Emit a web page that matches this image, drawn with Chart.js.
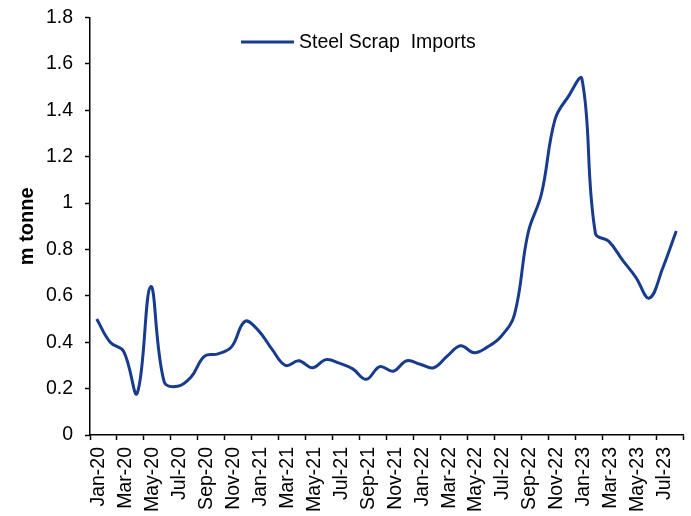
<!DOCTYPE html>
<html>
<head>
<meta charset="utf-8">
<script src="https://cdn.jsdelivr.net/npm/chart.js@4/dist/chart.umd.min.js"></script>
<style>
  html, body { margin: 0; padding: 0; background: #fff; }
  #wrap { width: 691px; height: 516px; }
</style>
</head>
<body>
<div id="wrap"><canvas id="chart" width="691" height="516"></canvas></div>
<script>
// Monthly steel scrap imports, million tonnes
const months = [
  'Jan-20','Feb-20','Mar-20','Apr-20','May-20','Jun-20','Jul-20','Aug-20','Sep-20','Oct-20','Nov-20','Dec-20',
  'Jan-21','Feb-21','Mar-21','Apr-21','May-21','Jun-21','Jul-21','Aug-21','Sep-21','Oct-21','Nov-21','Dec-21',
  'Jan-22','Feb-22','Mar-22','Apr-22','May-22','Jun-22','Jul-22','Aug-22','Sep-22','Oct-22','Nov-22','Dec-22',
  'Jan-23','Feb-23','Mar-23','Apr-23','May-23','Jun-23','Jul-23','Aug-23'
];
const scrapImports = [
  0.50, 0.40, 0.36, 0.18, 0.64, 0.23, 0.21, 0.25, 0.34, 0.35, 0.38, 0.49,
  0.45, 0.37, 0.30, 0.32, 0.29, 0.325, 0.31, 0.285, 0.24, 0.295, 0.275, 0.32,
  0.305, 0.29, 0.34, 0.385, 0.355, 0.38, 0.425, 0.52, 0.87, 1.04, 1.36, 1.46,
  1.535, 0.87, 0.835, 0.755, 0.68, 0.59, 0.72, 0.88
];
const yTickLabels = ['0', '0.2', '0.4', '0.6', '0.8', '1', '1.2', '1.4', '1.6', '1.8'];

const seriesLabel = 'Steel Scrap  Imports';
const lineColor = '#173C8E';
const fontFamily = '"Liberation Sans", Arial, sans-serif';

// Legend drawn inside the plot area, near the top
const insideLegend = {
  id: 'insideLegend',
  afterDraw(chart) {
    const { ctx, chartArea } = chart;
    const ds = chart.data.datasets[0];
    const x0 = chartArea.left + 151;
    const y0 = chartArea.top + 24.5;
    ctx.save();
    ctx.strokeStyle = ds.borderColor;
    ctx.lineWidth = 3;
    ctx.beginPath();
    ctx.moveTo(x0, y0);
    ctx.lineTo(x0 + 53, y0);
    ctx.stroke();
    ctx.fillStyle = '#000';
    ctx.font = '19.5px ' + fontFamily;
    ctx.textBaseline = 'middle';
    ctx.textAlign = 'left';
    ctx.fillText(ds.label, x0 + 58, y0 + 1);
    ctx.restore();
  }
};

// Tick marks on the month axis every second month, at category boundaries
const everyOther = (c) => (c.index === undefined || c.index % 2 === 0) ? '#000' : 'rgba(0,0,0,0)';

new Chart(document.getElementById('chart'), {
  type: 'line',
  data: {
    labels: months,
    datasets: [{
      label: seriesLabel,
      data: scrapImports,
      borderColor: lineColor,
      backgroundColor: lineColor,
      borderWidth: 3,
      pointRadius: 0,
      pointHoverRadius: 0,
      tension: 0.4,
      fill: false
    }]
  },
  options: {
    responsive: false,
    animation: false,
    devicePixelRatio: 1,
    layout: { padding: { left: 0, right: 8, top: 17.5, bottom: 0 } },
    plugins: {
      legend: { display: false },
      tooltip: { enabled: false }
    },
    scales: {
      x: {
        type: 'category',
        offset: true,
        grid: {
          offset: true,
          drawOnChartArea: false,
          drawTicks: true,
          tickLength: 5,
          tickWidth: 1.5,
          color: everyOther,
          tickColor: everyOther
        },
        border: { display: true, color: '#000', width: 1.5 },
        ticks: {
          autoSkip: false,
          maxRotation: 90,
          minRotation: 90,
          padding: 7,
          labelOffset: 2,
          color: '#000',
          font: { family: fontFamily, size: 19.5 },
          callback: function (value, index) {
            return index % 2 === 0 ? this.getLabelForValue(value) : '';
          }
        },
        afterFit(scale) {
          scale.height = 81;
          scale.paddingLeft = 0;
          scale.paddingRight = 0;
        }
      },
      y: {
        min: 0,
        max: 1.8,
        grid: {
          drawOnChartArea: false,
          drawTicks: true,
          tickLength: 5,
          tickWidth: 1.5,
          color: '#000',
          tickColor: '#000'
        },
        border: { display: true, color: '#000', width: 1.5 },
        ticks: {
          stepSize: 0.2,
          padding: 12,
          color: '#000',
          font: { family: fontFamily, size: 19.5 },
          callback: (value, index) => yTickLabels[index]
        },
        title: {
          display: true,
          text: 'm tonne',
          color: '#000',
          font: { family: fontFamily, size: 20, weight: 'bold' },
          padding: { top: 15, bottom: 0 }
        },
        afterFit(scale) {
          scale.width = 90;
          scale.paddingTop = 0;
          scale.paddingBottom = 0;
        }
      }
    }
  },
  plugins: [insideLegend]
});
</script>
</body>
</html>
